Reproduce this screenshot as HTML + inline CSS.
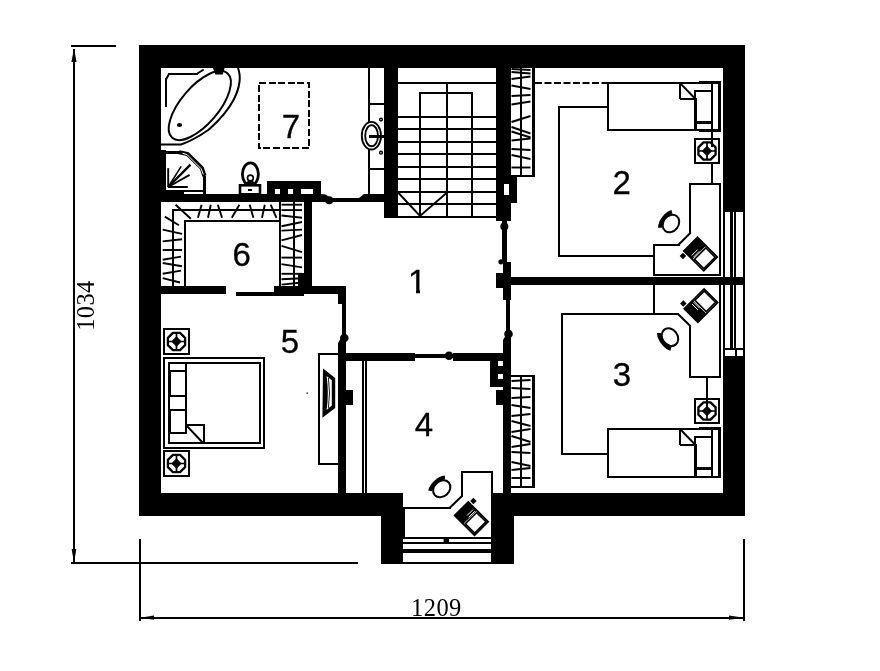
<!DOCTYPE html>
<html lang="en">
<head>
<meta charset="utf-8">
<title>Floor plan</title>
<style>
html,body{margin:0;padding:0;background:#fff;}
body{width:880px;height:671px;overflow:hidden;}
svg{display:block;filter:grayscale(1);}
</style>
</head>
<body>
<svg width="880" height="671" viewBox="0 0 880 671">
<rect x="0" y="0" width="880" height="671" fill="#fff"/>
<g id="walls" shape-rendering="crispEdges">
<rect x="139" y="45" width="606" height="23" fill="#000" />
<rect x="139" y="45" width="22" height="471" fill="#000" />
<rect x="139" y="493" width="264" height="23" fill="#000" />
<rect x="491" y="493" width="254" height="23" fill="#000" />
<rect x="723" y="45" width="22" height="167" fill="#000" />
<rect x="723" y="356" width="22" height="160" fill="#000" />
<rect x="381" y="493" width="22" height="71" fill="#000" />
<rect x="491" y="493" width="23" height="71" fill="#000" />
<rect x="384" y="68" width="14" height="150" fill="#000" />
<rect x="496" y="68" width="15" height="153" fill="#000" />
<rect x="511" y="177" width="6" height="26" fill="#000" />
<rect x="504" y="184" width="5" height="11" fill="#fff" />
<rect x="161" y="194" width="160" height="8" fill="#000" />
<rect x="267" y="181" width="54" height="14" fill="#000" />
<rect x="275" y="189" width="5" height="5" fill="#fff" />
<rect x="288" y="189" width="5" height="5" fill="#fff" />
<rect x="301" y="189" width="12" height="5" fill="#fff" />
<rect x="330" y="198" width="31" height="4" fill="#000" />
<rect x="364" y="194" width="21" height="8" fill="#000" />
<rect x="304" y="201" width="8" height="86" fill="#000" />
<rect x="298" y="273" width="7" height="14" fill="#000" />
<rect x="161" y="286" width="65" height="8" fill="#000" />
<rect x="236" y="292" width="40" height="4" fill="#000" />
<rect x="274" y="286" width="30" height="10" fill="#000" />
<rect x="304" y="286" width="42" height="8" fill="#000" />
<rect x="338" y="286" width="8" height="18" fill="#000" />
<rect x="342" y="304" width="4" height="32" fill="#000" />
<rect x="338" y="343" width="8" height="150" fill="#000" />
<rect x="346" y="390" width="7" height="15" fill="#000" />
<rect x="346" y="353" width="69" height="8" fill="#000" />
<rect x="415" y="354" width="39" height="4" fill="#000" />
<rect x="453" y="353" width="50" height="8" fill="#000" />
<rect x="490" y="361" width="14" height="26" fill="#000" />
<rect x="498" y="361" width="5" height="5" fill="#fff" />
<rect x="498" y="374" width="5" height="5" fill="#fff" />
<rect x="496" y="390" width="8" height="15" fill="#000" />
<rect x="503" y="340" width="8" height="153" fill="#000" />
<rect x="506" y="299" width="4" height="42" fill="#000" />
<rect x="502" y="220" width="5" height="43" fill="#000" />
<rect x="503" y="262" width="8" height="38" fill="#000" />
<rect x="496" y="273" width="8" height="15" fill="#000" />
<rect x="510" y="277" width="235" height="8" fill="#000" />
</g>
<circle cx="329.2" cy="200.2" r="4" fill="#000"/>
<circle cx="504.3" cy="226.5" r="4" fill="#000"/>
<circle cx="501" cy="261.8" r="2.6" fill="#000"/>
<circle cx="508.5" cy="334" r="4.3" fill="#000"/>
<circle cx="344.3" cy="338" r="4.3" fill="#000"/>
<circle cx="449" cy="355.8" r="4.3" fill="#000"/>
<circle cx="731.8" cy="281" r="4" fill="#000"/>
<path d="M320 194 L326 194.6 L330 198 L330 202 L320 202 Z" fill="#000" stroke="#000" stroke-width="0" stroke-linejoin="miter" />
<path d="M359 202 L359 198 L364 194 L365 202 Z" fill="#000" stroke="#000" stroke-width="0" stroke-linejoin="miter" />
<path d="M338 343 L341 338 L346 338 L346 343 Z" fill="#000" stroke="#000" stroke-width="0" stroke-linejoin="miter" />
<path d="M503 340 L506 335 L511 335 L511 340 Z" fill="#000" stroke="#000" stroke-width="0" stroke-linejoin="miter" />
<g id="thin" fill="none" stroke="#000" stroke-width="2">
<rect x="398" y="82" width="98" height="2" fill="#000" stroke="none" shape-rendering="crispEdges"/>
<rect x="446" y="83" width="2" height="134" fill="#000" stroke="none" shape-rendering="crispEdges"/>
<rect x="419" y="92" width="2" height="126" fill="#000" stroke="none" shape-rendering="crispEdges"/>
<rect x="419" y="92" width="54" height="2" fill="#000" stroke="none" shape-rendering="crispEdges"/>
<rect x="471" y="92" width="2" height="126" fill="#000" stroke="none" shape-rendering="crispEdges"/>
<rect x="398" y="116" width="98" height="2" fill="#000" stroke="none" shape-rendering="crispEdges"/>
<rect x="398" y="128" width="98" height="2" fill="#000" stroke="none" shape-rendering="crispEdges"/>
<rect x="398" y="141" width="98" height="2" fill="#000" stroke="none" shape-rendering="crispEdges"/>
<rect x="398" y="153" width="98" height="2" fill="#000" stroke="none" shape-rendering="crispEdges"/>
<rect x="398" y="166" width="98" height="2" fill="#000" stroke="none" shape-rendering="crispEdges"/>
<rect x="398" y="178" width="98" height="2" fill="#000" stroke="none" shape-rendering="crispEdges"/>
<rect x="398" y="191" width="98" height="2" fill="#000" stroke="none" shape-rendering="crispEdges"/>
<rect x="398" y="203" width="98" height="2" fill="#000" stroke="none" shape-rendering="crispEdges"/>
<rect x="398" y="216" width="98" height="2" fill="#000" stroke="none" shape-rendering="crispEdges"/>
<path d="M398.5 193 L420 216 L446.5 193" stroke-width="1.9"/>
<rect x="368" y="68" width="2" height="127" fill="#000" stroke="none" shape-rendering="crispEdges"/>
<rect x="369" y="103" width="15" height="2" fill="#000" stroke="none" shape-rendering="crispEdges"/>
<rect x="369" y="168" width="15" height="2" fill="#000" stroke="none" shape-rendering="crispEdges"/>
<ellipse cx="371.4" cy="135.7" rx="9.6" ry="13.8" fill="#fff" stroke-width="1.9"/>
<ellipse cx="371.6" cy="135.7" rx="6.4" ry="10.6" stroke-width="1.9"/>
<rect x="369" y="135" width="16" height="3" fill="#000" stroke="none" shape-rendering="crispEdges"/>
<circle cx="381" cy="119.6" r="1.4" stroke-width="1.4"/>
<circle cx="381" cy="152.7" r="1.4" stroke-width="1.4"/>
<rect x="259" y="83" width="50" height="65" stroke-dasharray="7 2.6" shape-rendering="crispEdges"/>
<ellipse cx="199.8" cy="105.5" rx="42.5" ry="18.8" transform="rotate(-49.5 199.8 105.5)"/>
<path d="M238 68 C241 76 240.5 86 234 99 C229 109 222 118 208.6 129.7 C198 137 190 141.5 181 144.5 L161 144.5"/>
<rect x="165" y="78" width="2" height="29" fill="#000" stroke="none" shape-rendering="crispEdges"/>
<line x1="166.4" y1="78.8" x2="169" y2="74" stroke="#000" stroke-width="2" stroke-linecap="round"/>
<rect x="168" y="73" width="30" height="2" fill="#000" stroke="none" shape-rendering="crispEdges"/>
<line x1="196.6" y1="74" x2="203" y2="70" stroke="#000" stroke-width="2" stroke-linecap="round"/>
<path d="M214 68 L223.5 68 L222 73.5 L216 73.5 Z" fill="#000"/>
<ellipse cx="179.5" cy="125" rx="2.6" ry="2" fill="#000" stroke="none"/>
<rect x="161" y="151" width="4" height="43" fill="#000" shape-rendering="crispEdges"/>
<rect x="161" y="191" width="22" height="3" fill="#000" shape-rendering="crispEdges"/>
<rect x="161" y="151" width="19" height="3" fill="#000" stroke="none" shape-rendering="crispEdges"/>
<path d="M179 152.2 L187.5 154 L201.8 168 L204.5 176" stroke-width="4.2" stroke-linejoin="round"/>
<path d="M182.5 153.3 L187 154.6 L201 168.6 L203.4 174.5" stroke="#fff" stroke-width="1"/>
<rect x="203" y="176" width="3" height="18" fill="#000" stroke="none" shape-rendering="crispEdges"/>
<rect x="165" y="190" width="40" height="2" fill="#000" stroke="none" shape-rendering="crispEdges"/>
<line x1="168.2" y1="187" x2="168.2" y2="168.2" stroke-width="1.9"/>
<line x1="168.2" y1="187" x2="181.2" y2="166.4" stroke-width="1.6"/>
<line x1="168.2" y1="187" x2="190.5" y2="164.6" stroke-width="2.4"/>
<line x1="168.2" y1="187" x2="189.6" y2="174.9" stroke-width="1.8"/>
<line x1="168.2" y1="187" x2="187.79999999999998" y2="187" stroke-width="2"/>
<ellipse cx="250.4" cy="174.2" rx="8" ry="11.4" fill="#fff" stroke-width="2.8"/>
<path d="M245 183 Q250.4 178 256 183 L256 186 L245 186 Z" fill="#000" stroke="none"/>
<circle cx="250.4" cy="178" r="2.9" fill="#fff" stroke-width="1.7"/>
<rect x="240" y="185.3" width="20" height="9" fill="#fff" stroke-width="2.6"/>
<rect x="248" y="189" width="4" height="2" fill="#000" stroke="none" shape-rendering="crispEdges"/>
<rect x="172" y="209" width="2" height="78" fill="#000" stroke="none" shape-rendering="crispEdges"/>
<rect x="172" y="209" width="109" height="2" fill="#000" stroke="none" shape-rendering="crispEdges"/>
<rect x="184" y="220" width="2" height="67" fill="#000" stroke="none" shape-rendering="crispEdges"/>
<rect x="184" y="220" width="97" height="2" fill="#000" stroke="none" shape-rendering="crispEdges"/>
<rect x="279" y="202" width="2" height="84" fill="#000" stroke="none" shape-rendering="crispEdges"/>
<rect x="293" y="202" width="2" height="84" fill="#000" stroke="none" shape-rendering="crispEdges"/>
<line x1="164.8" y1="216.6" x2="178.9" y2="225.2" stroke-width="1.9"/>
<line x1="162.7" y1="229.6" x2="182.1" y2="233.9" stroke-width="1.9"/>
<line x1="162.7" y1="241.4" x2="182.1" y2="239.3" stroke-width="1.9"/>
<line x1="162.7" y1="250" x2="182.1" y2="250" stroke-width="1.9"/>
<line x1="162.7" y1="259.8" x2="181" y2="256.6" stroke-width="1.9"/>
<line x1="162.7" y1="263" x2="182" y2="266.3" stroke-width="1.9"/>
<line x1="162.7" y1="273.8" x2="181" y2="270.6" stroke-width="1.9"/>
<line x1="162.7" y1="278.2" x2="180" y2="282.5" stroke-width="1.9"/>
<line x1="175.6" y1="204.7" x2="190.8" y2="218.8" stroke-width="2"/>
<line x1="201.6" y1="204.7" x2="197.9" y2="217.8" stroke-width="1.9"/>
<line x1="210.8" y1="204.7" x2="208" y2="217.8" stroke-width="1.9"/>
<line x1="217.8" y1="204.7" x2="222.1" y2="217.8" stroke-width="1.9"/>
<line x1="239.4" y1="204.7" x2="231.8" y2="217.8" stroke-width="1.9"/>
<line x1="249.7" y1="204.7" x2="253.4" y2="217.8" stroke-width="1.9"/>
<line x1="264.8" y1="204.7" x2="262" y2="217.8" stroke-width="1.9"/>
<line x1="270.7" y1="204.7" x2="276.5" y2="217.8" stroke-width="1.9"/>
<line x1="281.5" y1="204.7" x2="302" y2="204.7" stroke-width="1.9"/>
<line x1="281.5" y1="210.1" x2="302" y2="210.1" stroke-width="1.9"/>
<line x1="281.5" y1="215.5" x2="302" y2="217.7" stroke-width="1.9"/>
<line x1="281.5" y1="226.3" x2="302" y2="222" stroke-width="1.9"/>
<line x1="281.5" y1="230.6" x2="302" y2="229.6" stroke-width="1.9"/>
<line x1="281.5" y1="240.4" x2="302" y2="235" stroke-width="1.9"/>
<line x1="281.5" y1="245.8" x2="302" y2="252.2" stroke-width="1.9"/>
<line x1="281.5" y1="257.6" x2="302" y2="257.6" stroke-width="1.9"/>
<line x1="281.5" y1="264.1" x2="302" y2="267.4" stroke-width="1.9"/>
<line x1="281.5" y1="273.8" x2="302" y2="273.8" stroke-width="1.9"/>
<line x1="281.5" y1="279.2" x2="302" y2="278.2" stroke-width="1.9"/>
<line x1="281.5" y1="284.6" x2="302" y2="282.5" stroke-width="1.9"/>
<rect x="520" y="68" width="2" height="108" fill="#000" stroke="none" shape-rendering="crispEdges"/>
<rect x="532" y="68" width="3" height="109" fill="#000" stroke="none" shape-rendering="crispEdges"/>
<rect x="510" y="175" width="25" height="2" fill="#000" stroke="none" shape-rendering="crispEdges"/>
<line x1="511.5" y1="69" x2="530.5" y2="70" stroke-width="1.9"/>
<line x1="511.5" y1="72" x2="530.5" y2="73.5" stroke-width="1.9"/>
<line x1="511.5" y1="79" x2="530.5" y2="76.5" stroke-width="1.9"/>
<line x1="511.5" y1="85.5" x2="530.5" y2="89" stroke-width="1.9"/>
<line x1="511.5" y1="96" x2="530.5" y2="95" stroke-width="1.9"/>
<line x1="511.5" y1="104.5" x2="530.5" y2="101.5" stroke-width="1.9"/>
<line x1="511.5" y1="122" x2="530.5" y2="116" stroke-width="1.9"/>
<line x1="511.5" y1="127" x2="530.5" y2="133.5" stroke-width="1.9"/>
<line x1="511.5" y1="131.5" x2="530.5" y2="137.5" stroke-width="1.9"/>
<line x1="511.5" y1="140.5" x2="530.5" y2="138.5" stroke-width="1.9"/>
<line x1="511.5" y1="149" x2="530.5" y2="150" stroke-width="1.9"/>
<line x1="511.5" y1="155" x2="530.5" y2="159" stroke-width="1.9"/>
<line x1="511.5" y1="167.5" x2="530.5" y2="167.5" stroke-width="1.9"/>
<line x1="535" y1="83" x2="607" y2="83" stroke-dasharray="7 2.5"/>
<rect x="558" y="106" width="51" height="2" fill="#000" stroke="none" shape-rendering="crispEdges"/>
<rect x="558" y="106" width="2" height="151" fill="#000" stroke="none" shape-rendering="crispEdges"/>
<rect x="558" y="255" width="97" height="2" fill="#000" stroke="none" shape-rendering="crispEdges"/>
<rect x="607" y="82" width="114" height="2" fill="#000" stroke="none" shape-rendering="crispEdges"/>
<rect x="719" y="82" width="2" height="49" fill="#000" stroke="none" shape-rendering="crispEdges"/>
<rect x="607" y="129" width="114" height="2" fill="#000" stroke="none" shape-rendering="crispEdges"/>
<rect x="607" y="82" width="2" height="49" fill="#000" stroke="none" shape-rendering="crispEdges"/>
<rect x="699" y="81" width="22" height="3" fill="#000" stroke="none" shape-rendering="crispEdges"/>
<rect x="718" y="81" width="3" height="51" fill="#000" stroke="none" shape-rendering="crispEdges"/>
<rect x="699" y="129" width="22" height="3" fill="#000" stroke="none" shape-rendering="crispEdges"/>
<rect x="711" y="83" width="2" height="47" fill="#000" stroke="none" shape-rendering="crispEdges"/>
<rect x="694" y="90" width="17" height="33" fill="#fff" stroke="none" shape-rendering="crispEdges"/>
<rect x="694" y="90" width="17" height="2" fill="#000" stroke="none" shape-rendering="crispEdges"/>
<rect x="694" y="90" width="2" height="9" fill="#000" stroke="none" shape-rendering="crispEdges"/>
<rect x="694" y="98" width="3" height="32" fill="#000" stroke="none" shape-rendering="crispEdges"/>
<rect x="694" y="121" width="17" height="2.5" fill="#000" stroke="none" shape-rendering="crispEdges"/>
<rect x="679" y="83" width="2" height="16" fill="#000" stroke="none" shape-rendering="crispEdges"/>
<rect x="680" y="98" width="15" height="2" fill="#000" stroke="none" shape-rendering="crispEdges"/>
<line x1="680" y1="83" x2="694.5" y2="98" stroke-width="1.9"/>
<rect x="711" y="130" width="2" height="54" fill="#000" stroke="none" shape-rendering="crispEdges"/>
<rect x="695" y="139" width="24" height="24" fill="#fff" stroke="none" shape-rendering="crispEdges"/>
<rect x="694" y="138" width="26" height="2" fill="#000" stroke="none" shape-rendering="crispEdges"/>
<rect x="718" y="138" width="2" height="26" fill="#000" stroke="none" shape-rendering="crispEdges"/>
<rect x="694" y="162" width="26" height="2" fill="#000" stroke="none" shape-rendering="crispEdges"/>
<rect x="694" y="138" width="2" height="26" fill="#000" stroke="none" shape-rendering="crispEdges"/>
<path d="M703.438 142.4 L710.562 142.4 L715.6 147.438 L715.6 154.562 L710.562 159.6 L703.438 159.6 L698.4 154.562 L698.4 147.438 Z" stroke-width="2.3" stroke-linejoin="round"/>
<path d="M698.6 151 H715.4 M707 142.6 V159.4" stroke-width="1.7"/>
<path d="M707 145.8 L712.2 151 L707 156.2 L701.8 151 Z" fill="#000" stroke="none"/>
<rect x="711" y="139" width="2" height="8" fill="#000" stroke="none" shape-rendering="crispEdges"/>
<rect x="689" y="183" width="32" height="2" fill="#000" stroke="none" shape-rendering="crispEdges"/>
<rect x="719" y="183" width="2" height="93" fill="#000" stroke="none" shape-rendering="crispEdges"/>
<rect x="653" y="274" width="68" height="2" fill="#000" stroke="none" shape-rendering="crispEdges"/>
<rect x="653" y="244" width="2" height="32" fill="#000" stroke="none" shape-rendering="crispEdges"/>
<rect x="653" y="244" width="27" height="2" fill="#000" stroke="none" shape-rendering="crispEdges"/>
<line x1="678.5" y1="244.8" x2="690.3" y2="233" stroke="#000" stroke-width="2" stroke-linecap="round"/>
<rect x="689" y="183" width="2" height="51" fill="#000" stroke="none" shape-rendering="crispEdges"/>
<rect x="689" y="183" width="2" height="2" fill="#000" stroke="none" shape-rendering="crispEdges"/>
<g transform="translate(670.3 223) rotate(37)">
<ellipse cx="0.8" cy="0" rx="7.6" ry="9.4" stroke-width="2"/>
<path d="M-5.5 -10 C-9.2 -5 -9.2 5 -5.5 10" stroke-width="3.8"/>
</g>
<g transform="translate(700.6 254) rotate(45) scale(1 1)">
<rect x="-14" y="-9.6" width="28" height="19.2" fill="#fff" stroke-width="1.8"/>
<rect x="-14" y="-9.6" width="12" height="19.2" fill="#000" stroke="none"/>
<path d="M-5.2 -1 V7.5 M-2.8 -1 V7.5" stroke="#fff" stroke-width="0.9"/>
<rect x="-0.6" y="-8" width="13.2" height="16" fill="#fff" stroke-width="1.6"/>
<rect x="-13.4" y="11.6" width="4.6" height="4.6" fill="#000" stroke="none"/>
</g>
<rect x="561" y="313" width="94" height="2" fill="#000" stroke="none" shape-rendering="crispEdges"/>
<rect x="561" y="313" width="2" height="142" fill="#000" stroke="none" shape-rendering="crispEdges"/>
<rect x="561" y="453" width="48" height="2" fill="#000" stroke="none" shape-rendering="crispEdges"/>
<rect x="653" y="283" width="2" height="32" fill="#000" stroke="none" shape-rendering="crispEdges"/>
<rect x="653" y="313" width="26" height="2" fill="#000" stroke="none" shape-rendering="crispEdges"/>
<line x1="678" y1="314" x2="690.3" y2="326" stroke="#000" stroke-width="2" stroke-linecap="round"/>
<rect x="689" y="325" width="2" height="53" fill="#000" stroke="none" shape-rendering="crispEdges"/>
<rect x="689" y="376" width="32" height="2" fill="#000" stroke="none" shape-rendering="crispEdges"/>
<rect x="719" y="283" width="2" height="95" fill="#000" stroke="none" shape-rendering="crispEdges"/>
<g transform="translate(669.3 337.6) rotate(-37)">
<ellipse cx="0.8" cy="0" rx="7.6" ry="9.4" stroke-width="2"/>
<path d="M-5.5 -10 C-9.2 -5 -9.2 5 -5.5 10" stroke-width="3.8"/>
</g>
<g transform="translate(701 305.6) rotate(-45) scale(1 -1)">
<rect x="-14" y="-9.6" width="28" height="19.2" fill="#fff" stroke-width="1.8"/>
<rect x="-14" y="-9.6" width="12" height="19.2" fill="#000" stroke="none"/>
<path d="M-5.2 -1 V7.5 M-2.8 -1 V7.5" stroke="#fff" stroke-width="0.9"/>
<rect x="-0.6" y="-8" width="13.2" height="16" fill="#fff" stroke-width="1.6"/>
<rect x="-13.4" y="11.6" width="4.6" height="4.6" fill="#000" stroke="none"/>
</g>
<rect x="706" y="377" width="2" height="22" fill="#000" stroke="none" shape-rendering="crispEdges"/>
<rect x="695" y="399" width="24" height="24" fill="#fff" stroke="none" shape-rendering="crispEdges"/>
<rect x="694" y="398" width="26" height="2" fill="#000" stroke="none" shape-rendering="crispEdges"/>
<rect x="718" y="398" width="2" height="26" fill="#000" stroke="none" shape-rendering="crispEdges"/>
<rect x="694" y="422" width="26" height="2" fill="#000" stroke="none" shape-rendering="crispEdges"/>
<rect x="694" y="398" width="2" height="26" fill="#000" stroke="none" shape-rendering="crispEdges"/>
<path d="M703.438 402.4 L710.562 402.4 L715.6 407.438 L715.6 414.562 L710.562 419.6 L703.438 419.6 L698.4 414.562 L698.4 407.438 Z" stroke-width="2.3" stroke-linejoin="round"/>
<path d="M698.6 411 H715.4 M707 402.6 V419.4" stroke-width="1.7"/>
<path d="M707 405.8 L712.2 411 L707 416.2 L701.8 411 Z" fill="#000" stroke="none"/>
<rect x="706" y="399" width="2" height="8" fill="#000" stroke="none" shape-rendering="crispEdges"/>
<rect x="607" y="428" width="114" height="2" fill="#000" stroke="none" shape-rendering="crispEdges"/>
<rect x="719" y="428" width="2" height="50" fill="#000" stroke="none" shape-rendering="crispEdges"/>
<rect x="607" y="476" width="114" height="2" fill="#000" stroke="none" shape-rendering="crispEdges"/>
<rect x="607" y="428" width="2" height="50" fill="#000" stroke="none" shape-rendering="crispEdges"/>
<rect x="699" y="427" width="22" height="3" fill="#000" stroke="none" shape-rendering="crispEdges"/>
<rect x="718" y="427" width="3" height="51" fill="#000" stroke="none" shape-rendering="crispEdges"/>
<rect x="711" y="429" width="2" height="48" fill="#000" stroke="none" shape-rendering="crispEdges"/>
<rect x="694" y="436" width="17" height="33" fill="#fff" stroke="none" shape-rendering="crispEdges"/>
<rect x="694" y="436" width="17" height="2" fill="#000" stroke="none" shape-rendering="crispEdges"/>
<rect x="694" y="436" width="2" height="9" fill="#000" stroke="none" shape-rendering="crispEdges"/>
<rect x="694" y="444" width="3" height="33" fill="#000" stroke="none" shape-rendering="crispEdges"/>
<rect x="694" y="467" width="17" height="2.5" fill="#000" stroke="none" shape-rendering="crispEdges"/>
<rect x="679" y="429" width="2" height="16" fill="#000" stroke="none" shape-rendering="crispEdges"/>
<rect x="680" y="444" width="15" height="2" fill="#000" stroke="none" shape-rendering="crispEdges"/>
<line x1="680" y1="429" x2="694.5" y2="444" stroke-width="1.9"/>
<rect x="520" y="376" width="2" height="111" fill="#000" stroke="none" shape-rendering="crispEdges"/>
<rect x="532" y="375" width="3" height="113" fill="#000" stroke="none" shape-rendering="crispEdges"/>
<rect x="510" y="375" width="25" height="2" fill="#000" stroke="none" shape-rendering="crispEdges"/>
<rect x="510" y="486" width="25" height="2" fill="#000" stroke="none" shape-rendering="crispEdges"/>
<line x1="511.5" y1="381" x2="530.5" y2="380" stroke-width="1.9"/>
<line x1="511.5" y1="388" x2="530.5" y2="389" stroke-width="1.9"/>
<line x1="511.5" y1="398" x2="530.5" y2="397" stroke-width="1.9"/>
<line x1="511.5" y1="405" x2="530.5" y2="408" stroke-width="1.9"/>
<line x1="511.5" y1="416" x2="530.5" y2="414" stroke-width="1.9"/>
<line x1="511.5" y1="421" x2="530.5" y2="426" stroke-width="1.9"/>
<line x1="511.5" y1="432" x2="530.5" y2="429" stroke-width="1.9"/>
<line x1="511.5" y1="436" x2="530.5" y2="442" stroke-width="1.9"/>
<line x1="511.5" y1="447" x2="530.5" y2="444" stroke-width="1.9"/>
<line x1="511.5" y1="452" x2="530.5" y2="453" stroke-width="1.9"/>
<line x1="511.5" y1="462" x2="530.5" y2="466" stroke-width="1.9"/>
<line x1="511.5" y1="470" x2="530.5" y2="468" stroke-width="1.9"/>
<line x1="511.5" y1="478" x2="530.5" y2="478" stroke-width="1.9"/>
<rect x="362" y="361" width="2" height="132" fill="#000" stroke="none" shape-rendering="crispEdges"/>
<rect x="365" y="361" width="2" height="132" fill="#000" stroke="none" shape-rendering="crispEdges"/>
<rect x="402" y="507" width="49" height="2" fill="#000" stroke="none" shape-rendering="crispEdges"/>
<line x1="449.5" y1="508" x2="462" y2="496" stroke="#000" stroke-width="2" stroke-linecap="round"/>
<rect x="461" y="471" width="2" height="26" fill="#000" stroke="none" shape-rendering="crispEdges"/>
<rect x="461" y="471" width="32" height="2" fill="#000" stroke="none" shape-rendering="crispEdges"/>
<rect x="491" y="471" width="2" height="23" fill="#000" stroke="none" shape-rendering="crispEdges"/>
<g transform="translate(441.2 488.2) rotate(48)">
<ellipse cx="0.8" cy="0" rx="7.6" ry="9.4" stroke-width="2"/>
<path d="M-5.5 -10 C-9.2 -5 -9.2 5 -5.5 10" stroke-width="3.8"/>
</g>
<g transform="translate(471.4 518.6) rotate(45) scale(1 -1)">
<rect x="-14" y="-9.6" width="28" height="19.2" fill="#fff" stroke-width="1.8"/>
<rect x="-14" y="-9.6" width="12" height="19.2" fill="#000" stroke="none"/>
<path d="M-5.2 -1 V7.5 M-2.8 -1 V7.5" stroke="#fff" stroke-width="0.9"/>
<rect x="-0.6" y="-8" width="13.2" height="16" fill="#fff" stroke-width="1.6"/>
<rect x="-13.4" y="11.6" width="4.6" height="4.6" fill="#000" stroke="none"/>
</g>
<rect x="403" y="537" width="88" height="2" fill="#000" stroke="none" shape-rendering="crispEdges"/>
<rect x="403" y="542" width="88" height="2" fill="#000" stroke="none" shape-rendering="crispEdges"/>
<rect x="403" y="549" width="88" height="4" fill="#000" stroke="none" shape-rendering="crispEdges"/>
<rect x="381" y="562" width="133" height="2" fill="#000" stroke="none" shape-rendering="crispEdges"/>
<rect x="403" y="507" width="2" height="31" fill="#000" stroke="none" shape-rendering="crispEdges"/>
<rect x="443.6" y="538.6" width="5.4" height="4" fill="#000" stroke="none"/>
<rect x="164" y="329" width="25" height="25" fill="#fff" stroke="none" shape-rendering="crispEdges"/>
<rect x="163" y="328" width="27" height="2" fill="#000" stroke="none" shape-rendering="crispEdges"/>
<rect x="188" y="328" width="2" height="27" fill="#000" stroke="none" shape-rendering="crispEdges"/>
<rect x="163" y="353" width="27" height="2" fill="#000" stroke="none" shape-rendering="crispEdges"/>
<rect x="163" y="328" width="2" height="27" fill="#000" stroke="none" shape-rendering="crispEdges"/>
<path d="M172.938 332.9 L180.062 332.9 L185.1 337.938 L185.1 345.062 L180.062 350.1 L172.938 350.1 L167.9 345.062 L167.9 337.938 Z" stroke-width="2.3" stroke-linejoin="round"/>
<path d="M168.1 341.5 H184.9 M176.5 333.1 V349.9" stroke-width="1.7"/>
<path d="M176.5 336.3 L181.7 341.5 L176.5 346.7 L171.3 341.5 Z" fill="#000" stroke="none"/>
<rect x="164" y="451" width="25" height="25" fill="#fff" stroke="none" shape-rendering="crispEdges"/>
<rect x="163" y="450" width="27" height="2" fill="#000" stroke="none" shape-rendering="crispEdges"/>
<rect x="188" y="450" width="2" height="27" fill="#000" stroke="none" shape-rendering="crispEdges"/>
<rect x="163" y="475" width="27" height="2" fill="#000" stroke="none" shape-rendering="crispEdges"/>
<rect x="163" y="450" width="2" height="27" fill="#000" stroke="none" shape-rendering="crispEdges"/>
<path d="M172.938 454.9 L180.062 454.9 L185.1 459.938 L185.1 467.062 L180.062 472.1 L172.938 472.1 L167.9 467.062 L167.9 459.938 Z" stroke-width="2.3" stroke-linejoin="round"/>
<path d="M168.1 463.5 H184.9 M176.5 455.1 V471.9" stroke-width="1.7"/>
<path d="M176.5 458.3 L181.7 463.5 L176.5 468.7 L171.3 463.5 Z" fill="#000" stroke="none"/>
<rect x="163" y="357" width="102" height="2" fill="#000" stroke="none" shape-rendering="crispEdges"/>
<rect x="263" y="357" width="2" height="92" fill="#000" stroke="none" shape-rendering="crispEdges"/>
<rect x="163" y="447" width="102" height="2" fill="#000" stroke="none" shape-rendering="crispEdges"/>
<rect x="163" y="357" width="2" height="92" fill="#000" stroke="none" shape-rendering="crispEdges"/>
<rect x="168" y="362" width="93" height="2" fill="#000" stroke="none" shape-rendering="crispEdges"/>
<rect x="259" y="362" width="2" height="82" fill="#000" stroke="none" shape-rendering="crispEdges"/>
<rect x="168" y="442" width="93" height="2" fill="#000" stroke="none" shape-rendering="crispEdges"/>
<rect x="168" y="362" width="2" height="82" fill="#000" stroke="none" shape-rendering="crispEdges"/>
<rect x="168" y="371" width="3" height="25" fill="#000" stroke="none" shape-rendering="crispEdges"/>
<rect x="168" y="410" width="3" height="23" fill="#000" stroke="none" shape-rendering="crispEdges"/>
<rect x="168" y="432" width="19" height="2" fill="#000" stroke="none" shape-rendering="crispEdges"/>
<rect x="185" y="362" width="2" height="72" fill="#000" stroke="none" shape-rendering="crispEdges"/>
<rect x="169" y="370" width="17" height="2" fill="#000" stroke="none" shape-rendering="crispEdges"/>
<rect x="169" y="395" width="17" height="2" fill="#000" stroke="none" shape-rendering="crispEdges"/>
<rect x="169" y="409" width="17" height="2" fill="#000" stroke="none" shape-rendering="crispEdges"/>
<rect x="185" y="424" width="20" height="2" fill="#000" stroke="none" shape-rendering="crispEdges"/>
<rect x="203" y="424" width="2" height="20" fill="#000" stroke="none" shape-rendering="crispEdges"/>
<line x1="186.5" y1="425.5" x2="203" y2="443" stroke-width="1.9"/>
<rect x="318" y="353" width="22" height="2" fill="#000" stroke="none" shape-rendering="crispEdges"/>
<rect x="338" y="353" width="2" height="112" fill="#000" stroke="none" shape-rendering="crispEdges"/>
<rect x="318" y="463" width="22" height="2" fill="#000" stroke="none" shape-rendering="crispEdges"/>
<rect x="318" y="353" width="2" height="112" fill="#000" stroke="none" shape-rendering="crispEdges"/>
<path d="M323 368.4 L335.2 378 L335.2 408 L322.4 417.8 Z" fill="#000" stroke="none"/>
<path d="M326.6 376 L331.8 380.2 L331.8 405.6 L326.6 410 Q329 393 326.6 376 Z" fill="#fff" stroke="none"/>
<path d="M328.4 378 Q330.6 393 328.4 408" stroke-width="0.9"/>
<rect x="306.5" y="392.5" width="1.4" height="1.2" fill="#000" stroke="none"/>
<rect x="723" y="212" width="2" height="144" fill="#000" stroke="none" shape-rendering="crispEdges"/>
<rect x="730" y="212" width="3" height="137" fill="#000" stroke="none" shape-rendering="crispEdges"/>
<rect x="734" y="212" width="2" height="137" fill="#000" stroke="none" shape-rendering="crispEdges"/>
<rect x="735" y="349" width="2" height="7" fill="#000" stroke="none" shape-rendering="crispEdges"/>
<rect x="743" y="212" width="2" height="144" fill="#000" stroke="none" shape-rendering="crispEdges"/>
<rect x="723" y="348" width="22" height="2" fill="#000" stroke="none" shape-rendering="crispEdges"/>
<rect x="71" y="45" width="45" height="2" fill="#000" stroke="none" shape-rendering="crispEdges"/>
<rect x="73" y="49" width="2" height="514" fill="#000" stroke="none" shape-rendering="crispEdges"/>
<rect x="71" y="562" width="287" height="2" fill="#000" stroke="none" shape-rendering="crispEdges"/>
<rect x="139" y="539" width="2" height="82" fill="#000" stroke="none" shape-rendering="crispEdges"/>
<rect x="743" y="539" width="2" height="82" fill="#000" stroke="none" shape-rendering="crispEdges"/>
<rect x="140" y="617" width="604" height="2" fill="#000" stroke="none" shape-rendering="crispEdges"/>
</g>
<path d="M74 48.5 L76.6 62 L71.4 62 Z" fill="#000"/>
<path d="M74 562 L76.4 549 L71.6 549 Z" fill="#000"/>
<path d="M140 617.7 L154 615.6 L154 619.8 Z" fill="#000"/>
<path d="M744 617.7 L729 615.6 L729 619.8 Z" fill="#000"/>
<defs><clipPath id="c1"><rect x="400" y="260" width="40" height="29.5"/><rect x="416.05" y="289" width="4" height="6"/></clipPath></defs>
<g font-family="'Liberation Sans', Arial, sans-serif" font-size="33" text-anchor="middle" fill="#000" stroke="#000" stroke-width="0.3">
<text x="417.3" y="292.8" clip-path="url(#c1)">1</text>
<text x="621.6" y="193.9">2</text>
<text x="622" y="385.6">3</text>
<text x="424" y="435.8">4</text>
<text x="290" y="352.5">5</text>
<text x="241.6" y="265.5">6</text>
<text x="291" y="137.9">7</text>
</g>
<g font-family="'Liberation Serif', 'Times New Roman', serif" font-size="24.5" fill="#000">
<text x="436.4" y="616" text-anchor="middle" letter-spacing="0.45">1209</text>
<text transform="translate(94 305.6) rotate(-90)" text-anchor="middle" letter-spacing="0.3">1034</text>
</g>
</svg>
</body>
</html>
